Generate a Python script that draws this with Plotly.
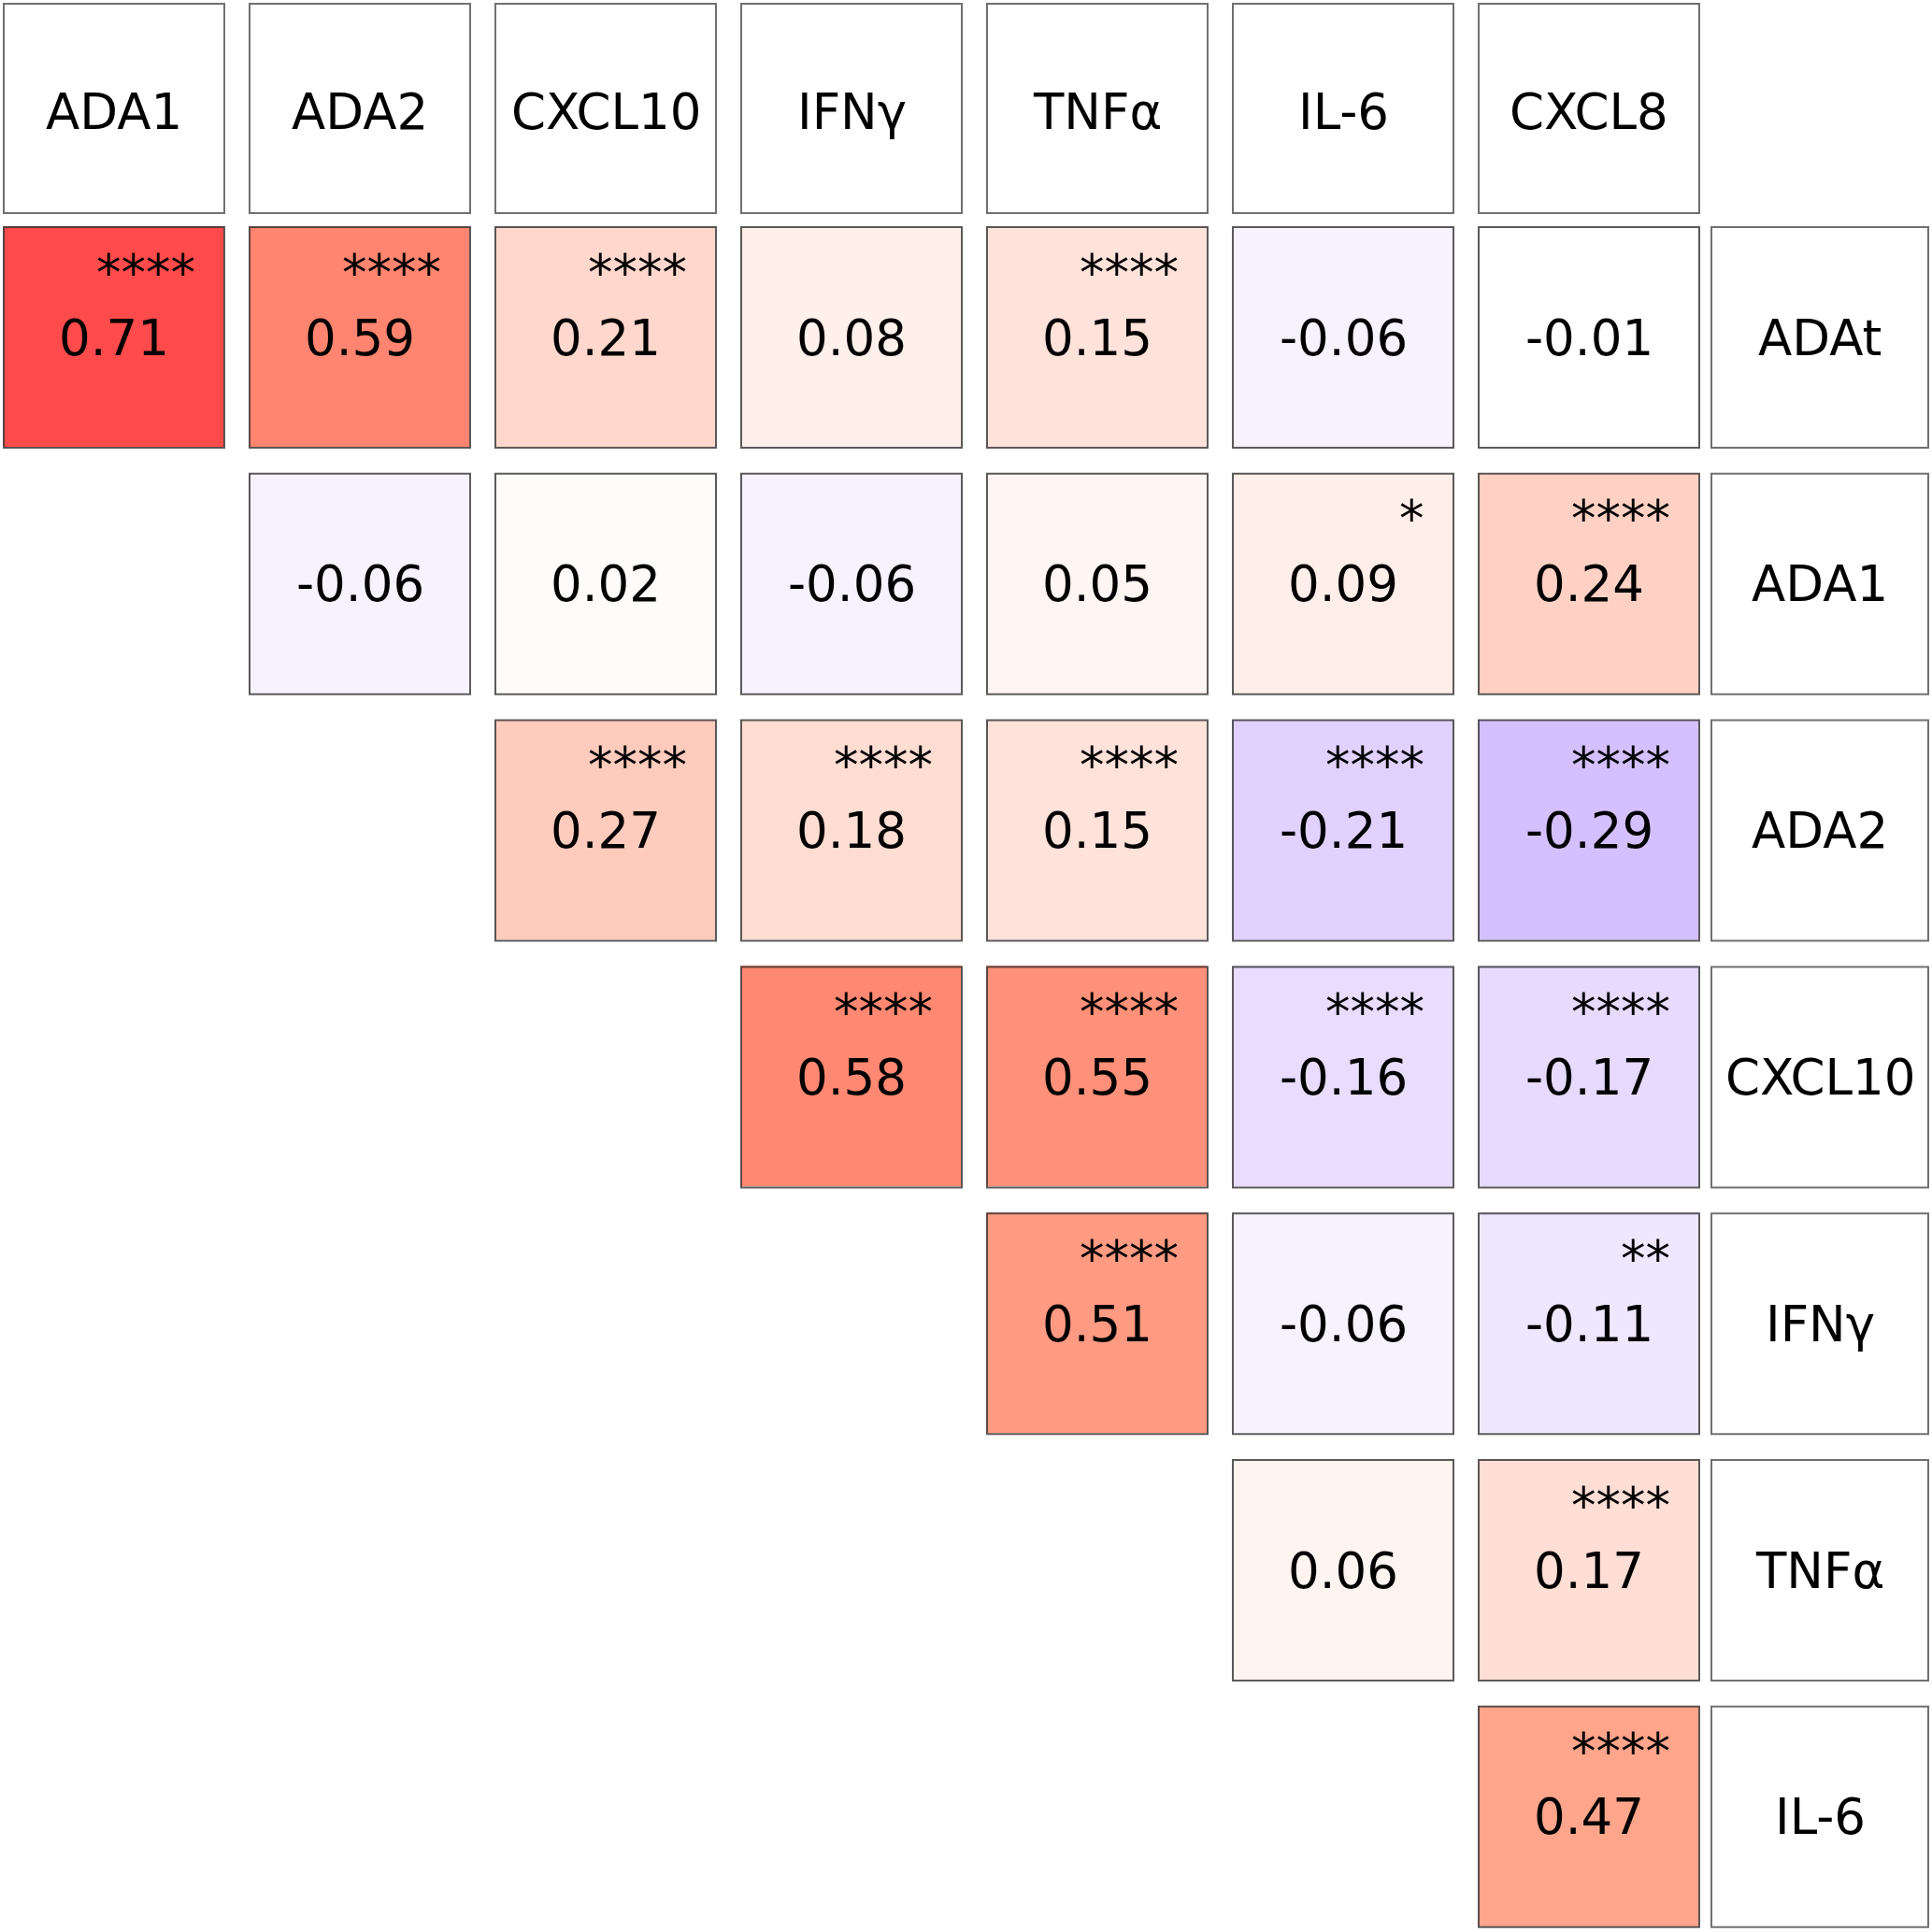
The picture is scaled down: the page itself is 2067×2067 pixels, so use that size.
import plotly.graph_objects as go

# ---------------- data ----------------
col_labels = ["ADA1", "ADA2", "CXCL10", "IFNγ", "TNFα", "IL-6", "CXCL8"]
row_labels = ["ADAt", "ADA1", "ADA2", "CXCL10", "IFNγ", "TNFα", "IL-6"]

corr_ADAt   = [0.71, 0.59, 0.21, 0.08, 0.15, -0.06, -0.01]
corr_ADA1   = [None, -0.06, 0.02, -0.06, 0.05, 0.09, 0.24]
corr_ADA2   = [None, None, 0.27, 0.18, 0.15, -0.21, -0.29]
corr_CXCL10 = [None, None, None, 0.58, 0.55, -0.16, -0.17]
corr_IFNg   = [None, None, None, None, 0.51, -0.06, -0.11]
corr_TNFa   = [None, None, None, None, None, 0.06, 0.17]
corr_IL6    = [None, None, None, None, None, None, 0.47]

sig_ADAt   = ["****", "****", "****", "", "****", "", ""]
sig_ADA1   = ["", "", "", "", "", "*", "****"]
sig_ADA2   = ["", "", "****", "****", "****", "****", "****"]
sig_CXCL10 = ["", "", "", "****", "****", "****", "****"]
sig_IFNg   = ["", "", "", "", "****", "", "**"]
sig_TNFa   = ["", "", "", "", "", "", "****"]
sig_IL6    = ["", "", "", "", "", "", "****"]

z = [corr_ADAt, corr_ADA1, corr_ADA2, corr_CXCL10, corr_IFNg, corr_TNFa, corr_IL6]
sig = [sig_ADAt, sig_ADA1, sig_ADA2, sig_CXCL10, sig_IFNg, sig_TNFa, sig_IL6]

# ---------------- geometry (pixels) ----------------
W = H = 2067
PX = 263.0      # column pitch
PY = 263.8      # row pitch
BOX = 236.0
LEFT0 = 4.0     # left edge of first column box
TOP0 = 243.0    # top edge of first data row box
HEAD_TOP, HEAD_BOT = 4.0, 228.0
LAB_L, LAB_R = 1831.0, 2063.0

cx0 = LEFT0 + BOX / 2
cy0 = TOP0 + BOX / 2


def xu(p):
    return (p - cx0) / PX


def yu(p):
    return (p - cy0) / PY


FONT = "DejaVu Sans"
FS = 53

colorscale = [
    [0.0, "rgb(110,38,255)"],
    [0.5, "rgb(255,255,255)"],
    [0.735, "rgb(255,165,140)"],
    [0.795, "rgb(255,133,112)"],
    [0.855, "rgb(255,75,75)"],
    [1.0, "rgb(255,0,0)"],
]

ncol = len(col_labels)
nrow = len(row_labels)

fig = go.Figure()
fig.add_trace(go.Heatmap(
    z=z, x=list(range(ncol)), y=list(range(nrow)),
    colorscale=colorscale, zmin=-1, zmax=1, showscale=False,
    xgap=PX - BOX, ygap=PY - BOX, hoverinfo="skip",
))

shapes = []
annotations = []

# data cells: borders, values, significance stars
for r in range(nrow):
    for c in range(ncol):
        v = z[r][c]
        if v is None:
            continue
        l = LEFT0 + PX * c
        t = TOP0 + PY * r
        shapes.append(dict(type="rect", xref="x", yref="y",
                           x0=xu(l), x1=xu(l + BOX), y0=yu(t), y1=yu(t + BOX),
                           line=dict(color="rgba(50,50,50,0.8)", width=2),
                           fillcolor="rgba(0,0,0,0)", layer="above"))
        annotations.append(dict(x=c, y=r, xref="x", yref="y", text=f"{v:.2f}",
                                showarrow=False, xanchor="center", yanchor="middle",
                                font=dict(family=FONT, size=FS, color="black")))
        if sig[r][c]:
            annotations.append(dict(x=xu(l + BOX - 29), y=yu(t + 48), xref="x", yref="y",
                                    text=sig[r][c], showarrow=False,
                                    xanchor="right", yanchor="middle",
                                    font=dict(family=FONT, size=FS, color="black")))

# header row (column labels)
for c, name in enumerate(col_labels):
    l = LEFT0 + PX * c
    shapes.append(dict(type="rect", xref="x", yref="y",
                       x0=xu(l), x1=xu(l + BOX), y0=yu(HEAD_TOP), y1=yu(HEAD_BOT),
                       line=dict(color="#707070", width=2), fillcolor="white"))
    annotations.append(dict(x=c, y=yu((HEAD_TOP + HEAD_BOT) / 2 + 3), xref="x", yref="y",
                            text=name, showarrow=False, xanchor="center", yanchor="middle",
                            font=dict(family=FONT, size=FS, color="black")))

# label column (row labels)
for r, name in enumerate(row_labels):
    t = TOP0 + PY * r
    shapes.append(dict(type="rect", xref="x", yref="y",
                       x0=xu(LAB_L), x1=xu(LAB_R), y0=yu(t), y1=yu(t + BOX),
                       line=dict(color="#707070", width=2), fillcolor="white"))
    annotations.append(dict(x=xu((LAB_L + LAB_R) / 2), y=r, xref="x", yref="y",
                            text=name, showarrow=False, xanchor="center", yanchor="middle",
                            font=dict(family=FONT, size=FS, color="black")))

fig.update_layout(
    width=W, height=H,
    margin=dict(l=0, r=0, t=0, b=0),
    paper_bgcolor="white", plot_bgcolor="white",
    xaxis=dict(range=[xu(0), xu(W)], visible=False, fixedrange=True),
    yaxis=dict(range=[yu(H), yu(0)], visible=False, fixedrange=True),
    shapes=shapes, annotations=annotations, showlegend=False,
)

fig.write_html("out.html", config={"displayModeBar": False},
               post_script="document.body.style.margin='0';document.body.style.overflow='hidden';")
